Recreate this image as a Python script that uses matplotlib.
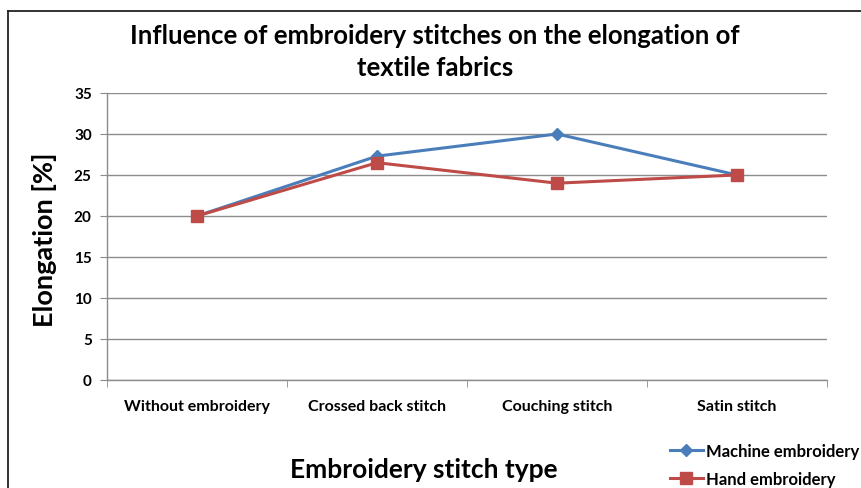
import matplotlib
matplotlib.use("Agg")
import matplotlib.pyplot as plt
from matplotlib.lines import Line2D

categories = ["Without embroidery", "Crossed back stitch", "Couching stitch", "Satin stitch"]
machine = [20, 27.3, 30, 25]
hand = [20, 26.5, 24, 25]
yticks = [0, 5, 10, 15, 20, 25, 30, 35]

plt.rcParams['font.family'] = ['Lato', 'DejaVu Sans']

fig = plt.figure(figsize=(8.61, 4.89), dpi=100)
ax = fig.add_axes([0.1243, 0.2209, 0.9605 - 0.1243, 0.8078 - 0.2209])

x = list(range(len(categories)))
blue = "#4A7EBB"
red = "#BE4B48"
l1, = ax.plot(x, machine, color=blue, lw=2.2, marker="D", ms=6, label="Machine embroidery", zorder=3)
l2, = ax.plot(x, hand, color=red, lw=2.2, marker="s", ms=8, label="Hand embroidery", zorder=4)

ax.set_xlim(-0.5, 3.5)
ax.set_ylim(0, 35)
ax.set_yticks(yticks)
ax.set_yticklabels([str(v) for v in yticks], fontsize=11, fontweight="bold")
ax.yaxis.grid(True, color="#8c8c8c", lw=1)
ax.set_axisbelow(True)
ax.set_xticks(x)
ax.set_xticklabels(categories, fontsize=11.5, fontweight="bold")
ax.tick_params(axis="x", length=0, pad=14)
ax.set_xticks([-0.5, 0.5, 1.5, 2.5, 3.5], minor=True)
ax.tick_params(axis="x", which="minor", length=5, color="#8c8c8c")
ax.tick_params(axis="y", length=5, color="#8c8c8c", pad=6)
for s in ["top", "right"]:
    ax.spines[s].set_visible(False)
for s in ["left", "bottom"]:
    ax.spines[s].set_color("#8c8c8c")
    ax.spines[s].set_linewidth(1)

fig.text(0.505, 0.893, "Influence of embroidery stitches on the elongation of\ntextile fabrics",
         ha="center", va="center", fontsize=18.5, fontweight="bold", linespacing=1.4)
fig.text(0.052, 0.51, "Elongation [%]", rotation=90, ha="center", va="center",
         fontsize=19.5, fontweight="bold")
fig.text(0.492, 0.038, "Embroidery stitch type", ha="center", va="center",
         fontsize=19, fontweight="bold")

fig.legend(handles=[l1, l2], loc="lower left", bbox_to_anchor=(0.770, -0.012),
           frameon=False, prop={"size": 12, "weight": "bold"}, handlelength=2.0,
           handletextpad=0.2, labelspacing=0.75, borderaxespad=0)

fig.add_artist(Line2D([0.009, 0.009], [0, 0.976], transform=fig.transFigure, color="#222222", lw=1.3))
fig.add_artist(Line2D([0.009, 1.0], [0.976, 0.976], transform=fig.transFigure, color="#222222", lw=1.3))

fig.savefig("out.png", dpi=100)
